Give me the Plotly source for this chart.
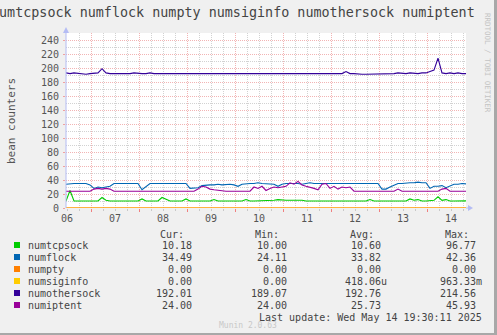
import plotly.graph_objects as go
import pandas as pd

# ---------------- data ----------------
start = "2025-05-06 11:30"
end = "2025-05-14 19:30"
times = pd.date_range(start, periods=101, freq="2h")

numtcpsock = [10, 25, 10, 10, 10, 10, 10, 10, 10, 15,
              11, 10, 10, 10, 10, 10, 10, 10, 10, 13,
              10, 10, 10, 10, 15, 12, 10, 10, 10, 10,
              13, 10, 10, 10, 10, 10, 10, 12, 10, 10,
              10, 10, 10, 10, 10, 12, 10, 10, 10, 11,
              11, 11, 11, 12, 11, 11, 11, 11, 12, 11,
              10, 10, 10, 10, 11, 10, 10, 10, 10, 10,
              10, 10, 10, 10, 10, 10, 12, 10, 10, 10,
              10, 10, 10, 10, 11, 10, 13, 11, 12, 10,
              10, 11, 11, 16, 11, 12, 10, 10, 10, 10,
              10.18]
numflock = [34, 35, 35, 35, 35, 35, 33, 28, 30, 29,
            30, 31, 35, 35, 35, 35, 35, 36, 35, 26,
            30, 35, 35, 35, 36, 35, 35, 35, 35, 35,
            35, 28, 29, 29, 32, 33, 33, 33, 34, 33,
            34, 34, 33, 31, 34, 35, 35, 35, 36, 35,
            35, 35, 34, 31, 34, 35, 35, 36, 35, 34,
            35, 36, 35, 35, 35, 36, 35, 35, 36, 35,
            35, 35, 36, 36, 36, 36, 35, 36, 35, 27,
            27, 30, 33, 35, 35, 36, 36, 36, 37, 36,
            36, 28, 31, 31, 32, 29, 31, 34, 34, 35,
            34.49]
numpty = [0.0] * 101
numsiginfo = [0.0] * 101
numothersock = [193, 192, 193, 192, 192, 191, 192, 192, 193, 199,
                193, 192, 192, 191, 191, 192, 192, 193, 192, 192,
                192, 193, 192, 192, 193, 192, 193, 192, 192, 193,
                192, 192, 193, 192, 192, 192, 192, 193, 192, 192,
                193, 192, 192, 192, 193, 192, 192, 192, 193, 192,
                192, 192, 192, 192, 193, 192, 192, 192, 193, 192,
                192, 192, 193, 192, 192, 192, 192, 193, 192, 192,
                195, 192, 192, 191, 191, 191, 191, 192, 192, 192,
                191, 192, 192, 193, 192, 192, 193, 192, 192, 193,
                193, 195, 197, 214, 193, 192, 193, 192, 193, 192,
                192.01]
numiptent = [24, 24, 24, 24, 24, 24, 24, 27, 28, 27,
             28, 27, 24, 24, 24, 24, 24, 24, 24, 24,
             24, 24, 24, 24, 24, 24, 24, 24, 24, 24,
             24, 24, 24, 27, 31, 30, 27, 26, 25, 25,
             24, 24, 24, 24, 24, 24, 24, 30, 28, 31,
             25, 28, 30, 29, 30, 31, 36, 34, 38, 33,
             31, 30, 28, 26, 34, 35, 28, 31, 27, 30,
             29, 30, 24, 24, 24, 24, 24, 24, 24, 24,
             24, 24, 24, 27, 24, 24, 24, 24, 24, 24,
             24, 24, 24, 24, 27, 28, 24, 24, 24, 24,
             24]

series_names = ["numtcpsock", "numflock", "numpty", "numsiginfo", "numothersock", "numiptent"]
series_colors = ["#00cc00", "#0066b3", "#ff8000", "#ffcc00", "#330099", "#990099"]
series_values = [numtcpsock, numflock, numpty, numsiginfo, numothersock, numiptent]

cur_vals = ["10.18", "34.49", "0.00", "0.00", "192.01", "24.00"]
min_vals = ["10.00", "24.11", "0.00", "0.00", "189.07", "24.00"]
avg_vals = ["10.60", "33.82", "0.00", "418.06u", "192.76", "25.73"]
max_vals = ["96.77", "42.36", "0.00", "963.33m", "214.56", "45.93"]

day_labels = ["06", "07", "08", "09", "10", "11", "12", "13", "14"]
label_times = pd.date_range("2025-05-06 12:00", periods=9, freq="1D")

title_text = "numtcpsock numflock numpty numsiginfo numothersock numiptent"
y_title = "bean counters"
last_update = "Last update: Wed May 14 19:30:11 2025"
version_text = "Munin 2.0.63"
side_text = "RRDTOOL / TOBI OETIKER"

# ---------------- layout geometry ----------------
W, H = 497, 335
L, R, T, B = 66, 466, 33, 208
FONT = "DejaVu Sans Mono"
TXT = "#444444"


def px(x):
    return (x - L) / (R - L)


def py(y):
    return (B - y) / (B - T)


fig = go.Figure()
for i, (name, col, vals) in enumerate(zip(series_names, series_colors, series_values)):
    fig.add_trace(go.Scatter(
        x=times, y=vals, mode="lines", name=name,
        line=dict(color=col, width=1.1, shape="linear"),
        xaxis="x2" if name == "numpty" else "x",
        showlegend=False, hoverinfo="skip"))

grid_red = "#f2b4b4"
grid_gray = "#d2d2d2"

fig.update_layout(
    width=W, height=H,
    margin=dict(l=L, r=W - R, t=T, b=H - B, pad=0),
    paper_bgcolor="#f0f0f0", plot_bgcolor="#ffffff",
    font=dict(family=FONT, size=10, color=TXT),
    xaxis=dict(type="date", range=[start, end], tickmode="linear",
               tick0="2025-05-07", dtick=86400000, showticklabels=False,
               showgrid=True, gridcolor=grid_red, griddash="1px,1px", gridwidth=1,
               ticks="outside", ticklen=3, tickcolor="#f08080",
               minor=dict(tickmode="linear", tick0="2025-05-06", dtick=6 * 3600000,
                          showgrid=True, gridcolor=grid_gray, griddash="1px,1px",
                          ticks="outside", ticklen=2, tickcolor="#c8c8c8"),
               zeroline=False, showline=False, fixedrange=True),
    xaxis2=dict(type="date", range=[start, end], overlaying="x", side="bottom",
                anchor="y", tickmode="array", tickvals=list(label_times),
                ticktext=day_labels, showgrid=False, ticks="", zeroline=False,
                showline=False, tickfont=dict(size=10, color="#555555"),
                ticklabelstandoff=3),
    yaxis=dict(range=[0, 250], tickmode="linear", tick0=0, dtick=20,
               showgrid=True, gridcolor=grid_red, griddash="1px,1px",
               ticks="outside", ticklen=2, tickcolor="#f0a0a0",
               minor=dict(tickmode="linear", tick0=0, dtick=10, showgrid=True,
                          gridcolor=grid_gray, griddash="1px,1px"),
               zeroline=False, showline=False,
               tickfont=dict(size=10, color="#555555"), ticklabelstandoff=2),
)

shapes = []
axis_col = "#b4bcf4"
# y axis line with arrow
shapes.append(dict(type="line", xref="paper", yref="paper",
                   x0=px(66), x1=px(66), y0=py(208), y1=py(31),
                   line=dict(color=axis_col, width=1)))
shapes.append(dict(type="path", xref="paper", yref="paper",
                   path=f"M {px(63)} {py(33)} L {px(69)} {py(33)} L {px(66)} {py(27)} Z",
                   fillcolor=axis_col, line=dict(width=0)))
# x axis arrow
shapes.append(dict(type="line", xref="paper", yref="paper",
                   x0=px(466), x1=px(469), y0=py(208), y1=py(208),
                   line=dict(color=axis_col, width=1)))
shapes.append(dict(type="path", xref="paper", yref="paper",
                   path=f"M {px(468)} {py(205)} L {px(468)} {py(211)} L {px(473)} {py(208)} Z",
                   fillcolor=axis_col, line=dict(width=0)))
# frame: right/bottom dark
shapes.append(dict(type="rect", xref="paper", yref="paper",
                   x0=px(494), x1=px(498), y0=py(0), y1=py(336),
                   fillcolor="#a8a8a8", line=dict(width=0)))
shapes.append(dict(type="rect", xref="paper", yref="paper",
                   x0=px(0), x1=px(498), y0=py(333), y1=py(336),
                   fillcolor="#a8a8a8", line=dict(width=0)))

annotations = []
# title
annotations.append(dict(text=title_text, xref="paper", yref="paper",
                        x=px(477), y=py(13), xanchor="right", yanchor="middle",
                        showarrow=False, font=dict(size=13.4, color="#444444")))
# y title
annotations.append(dict(text=y_title, xref="paper", yref="paper",
                        x=px(11), y=py(121), xanchor="center", yanchor="middle",
                        textangle=-90, showarrow=False,
                        font=dict(size=11, color="#555555")))
# side text
annotations.append(dict(text=side_text, xref="paper", yref="paper",
                        x=px(487), y=py(63), xanchor="center", yanchor="middle",
                        textangle=90, showarrow=False,
                        font=dict(size=7.5, color="#c4c4c4")))

# legend headers
for txt, xr in zip(["Cur:", "Min:", "Avg:", "Max:"], [186, 281, 376, 471]):
    annotations.append(dict(text=txt, xref="paper", yref="paper", x=px(xr), y=py(234),
                            xanchor="right", yanchor="middle", showarrow=False,
                            font=dict(size=10, color=TXT)))

row_y = [245, 257, 269, 281, 293, 305]
col_right = [194, 289, 383, 478]
for i, name in enumerate(series_names):
    yy = row_y[i]
    shapes.append(dict(type="rect", xref="paper", yref="paper",
                       x0=px(14), x1=px(20), y0=py(yy - 3), y1=py(yy + 3),
                       fillcolor=series_colors[i], line=dict(width=0)))
    annotations.append(dict(text=name, xref="paper", yref="paper", x=px(26), y=py(yy),
                            xanchor="left", yanchor="middle", showarrow=False,
                            font=dict(size=10, color=TXT)))
    for vals, xr in zip([cur_vals, min_vals, avg_vals, max_vals], col_right):
        v = vals[i]
        shift = 6 if v[-1].isalpha() else 0
        annotations.append(dict(text=v, xref="paper", yref="paper", x=px(xr + shift), y=py(yy),
                                xanchor="right", yanchor="middle", showarrow=False,
                                font=dict(size=10, color=TXT)))

annotations.append(dict(text=last_update, xref="paper", yref="paper", x=px(484), y=py(317),
                        xanchor="right", yanchor="middle", showarrow=False,
                        font=dict(size=10, color=TXT)))
annotations.append(dict(text=version_text, xref="paper", yref="paper", x=px(248), y=py(325),
                        xanchor="center", yanchor="middle", showarrow=False,
                        font=dict(size=8, color="#c8c8c8")))

fig.update_layout(shapes=shapes, annotations=annotations)
fig.write_html("out.html")
